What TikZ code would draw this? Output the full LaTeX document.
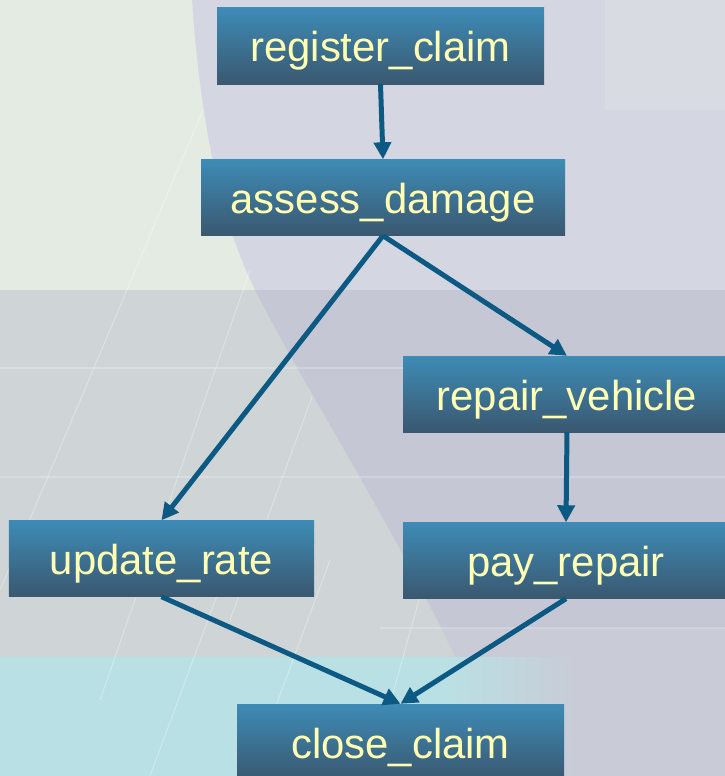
\documentclass[tikz,border=0pt]{standalone}
\usepackage{fontspec}
\setmainfont{Liberation Sans}
\usepackage{tikz}
\usetikzlibrary{arrows.meta}

\definecolor{boxtop}{HTML}{3E8BB6}
\definecolor{boxbot}{HTML}{3A5870}
\definecolor{labeltext}{HTML}{FFFFB3}
\definecolor{flowline}{HTML}{0C5A84}

\tikzset{
  task/.style={shape=rectangle, draw=none, top color=boxtop, bottom color=boxbot,
    minimum height=76bp, inner sep=0pt, text=labeltext,
    font=\fontsize{42}{50}\selectfont, text height=36bp, text depth=4bp},
  flow/.style={draw=flowline, line width=5bp, -{Triangle[length=17bp,width=17bp]}}
}

\begin{document}
\begin{tikzpicture}[x=1bp,y=-1bp]
  \useasboundingbox (0,0) rectangle (725,776);
  \clip (0,0) rectangle (725,776);
  % background
  \fill[color={rgb,255:red,197;green,199;blue,213}] (0,0) rectangle (725,776);
  \fill[color={rgb,255:red,212;green,215;blue,226}] (0,0) rectangle (725,290);
  \fill[color={rgb,255:red,216;green,219;blue,225}] (605,0) rectangle (725,110);
  \fill[color={rgb,255:red,201;green,203;blue,214}] (440,628) rectangle (725,776);
  \fill[color={rgb,255:red,228;green,235;blue,227}] (0,0) -- (192,0) .. controls (200,120) and (220,220) .. (255,290) -- (0,290) -- cycle;
  \fill[color={rgb,255:red,207;green,213;blue,214}] (0,290) -- (255,290) .. controls (300,380) and (390,520) .. (455,657) -- (0,657) -- cycle;
  \fill[color={rgb,255:red,185;green,225;blue,229}] (0,657) rectangle (440,776);
  \fill[left color={rgb,255:red,185;green,225;blue,229}, right color={rgb,255:red,201;green,203;blue,214}] (440,657) rectangle (580,776);
  \draw[white, opacity=0.2, line width=2bp] (0,368) -- (725,368);
  \draw[white, opacity=0.2, line width=2bp] (0,477) -- (725,477);
  \draw[white, opacity=0.2, line width=2bp] (380,628) -- (725,628);
  \foreach \xa/\ya/\xb/\yb in {203/110/0/590, 250/270/100/700, 312/397/230/620, 245/520/150/776, 330/560/250/776, 430/560/370/776}
    \draw[white, opacity=0.3, line width=1bp] (\xa,\ya) -- (\xb,\yb);

  % tasks
  \node[task, minimum width=327bp] (register) at (380.5,46) {register\_claim};
  \node[task, minimum width=364bp] (assess) at (383,197.5) {assess\_damage};
  \node[task, minimum width=328bp] (repair) at (567,394) {repair\_vehicle};
  \node[task, minimum width=305bp] (rate) at (161.5,558.5) {update\_rate};
  \node[task, minimum width=326bp] (pay) at (566,560.5) {pay\_repair};
  \node[task, minimum width=327bp] (close) at (400.5,742) {close\_claim};

  % flows
  \draw[flow] (register.south) -- (assess.north);
  \draw[flow] (assess.south) -- (repair.north);
  \draw[flow] (assess.south) -- (rate.north);
  \draw[flow] (repair.south) -- (pay.north);
  \draw[flow] (rate.south) -- (close.north);
  \draw[flow] (pay.south) -- (close.north);
\end{tikzpicture}
\end{document}
